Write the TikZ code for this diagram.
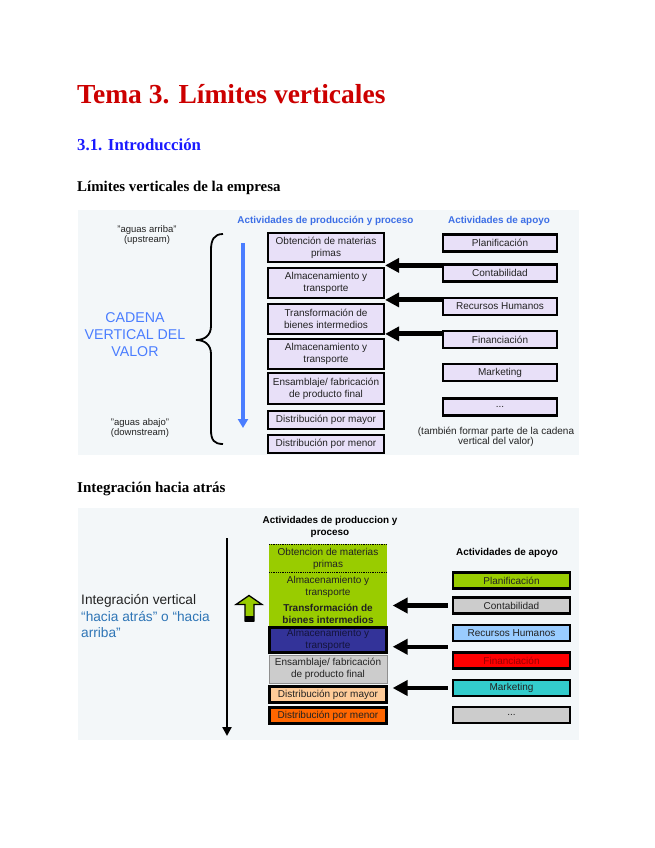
\documentclass[tikz,border=0pt]{standalone}
\usepackage{fontspec}
\setmainfont{Liberation Serif}
\setsansfont{Liberation Sans}
\usetikzlibrary{arrows.meta,calc}
\definecolor{bgc}{HTML}{F3F7F9}
\definecolor{lav}{HTML}{E8E0F8}
\definecolor{hblue}{HTML}{3D6FE6}
\definecolor{cblue}{HTML}{4A7DFF}
\definecolor{titred}{HTML}{CC0000}
\definecolor{secblue}{HTML}{1A1AFF}
\definecolor{lgreen}{HTML}{99CC00}
\definecolor{navy}{HTML}{333399}
\definecolor{navytxt}{HTML}{14143C}
\definecolor{lgray}{HTML}{CCCCCC}
\definecolor{peach}{HTML}{FFCC99}
\definecolor{orng}{HTML}{FF6600}
\definecolor{lblue}{HTML}{99CCFF}
\definecolor{teal2}{HTML}{33CCCC}
\definecolor{qblue}{HTML}{2E75B6}
\definecolor{darkred}{HTML}{990000}
\definecolor{btxt}{HTML}{222222}
\begin{document}
\begin{tikzpicture}[x=1pt,y=-1pt,
  boxtxt/.style={align=center, text=btxt, font=\sffamily\fontsize{10}{12}\selectfont, inner sep=0pt},
  pbox/.style={boxtxt, draw=black, line width=2.2pt, fill=lav, minimum width=116pt},
  abox/.style={boxtxt, draw=black, line width=2.2pt, fill=lav, minimum width=114pt, minimum height=17pt},
  cbox/.style={boxtxt, draw=black, line width=2.2pt, minimum width=117pt, minimum height=16pt},
  sbox/.style={boxtxt, minimum width=118pt},
  bigarrow/.style={line width=5pt, -{Triangle[length=14pt,width=14pt]}},
  midarrow/.style={line width=4.5pt, -{Triangle[length=15pt,width=15pt]}},
  small/.style={font=\sffamily\fontsize{9.5}{10.5}\selectfont, align=center, inner sep=0pt, text=btxt},
  hdr/.style={font=\sffamily\bfseries\fontsize{9.9}{12}\selectfont, align=center, inner sep=0pt}
  ]
\useasboundingbox (0,0) rectangle (655,848);
\fill[white] (0,0) rectangle (655,848);

% ---------- headings ----------
\node[anchor=base west, inner sep=0pt, text=titred, font=\bfseries\fontsize{27.5}{32}\selectfont] (title) at (77,103) {Tema 3. Límites verticales};
\node[anchor=base west, inner sep=0pt, text=secblue, font=\bfseries\fontsize{16.8}{18}\selectfont] (sec) at (77,150) {3.1. Introducción};
\node[anchor=base west, inner sep=0pt, font=\bfseries\fontsize{14.9}{17}\selectfont] (sub1) at (77,191) {Límites verticales de la empresa};
\node[anchor=base west, inner sep=0pt, font=\bfseries\fontsize{15}{17}\selectfont] (sub2) at (77,492) {Integración hacia atrás};

% ---------- diagram 1 ----------
\fill[bgc] (78,210) rectangle (579,455);
\node[hdr, text=hblue] (h1) at (325.5,221) {Actividades de producción y proceso};
\node[hdr, text=hblue] (h2) at (499,221) {Actividades de apoyo};

\node[small] (up) at (147,235) {"aguas arriba"\\(upstream)};
\node[small] (down) at (140,428) {"aguas abajo"\\(downstream)};
\node[align=center, text=cblue, inner sep=0pt, font=\sffamily\fontsize{14.2}{17}\selectfont] (cad) at (135,335) {CADENA\\VERTICAL DEL\\VALOR};

\draw[line width=1.8pt] (223,234) .. controls (214,234) and (211,240) .. (211,250) -- (211,326)
  .. controls (211,335) and (205,340) .. (196,340) .. controls (205,340) and (211,345) .. (211,354)
  -- (211,430) .. controls (211,440) and (214,444) .. (223,444);

\coordinate (bt) at (243,243);
\coordinate (bb) at (243,428);
\draw[cblue, line width=3.5pt, -{Triangle[length=9pt,width=10pt]}] (bt) -- (bb);

\node[pbox, minimum height=29pt] (p1) at (326,247.5) {Obtención de materias\\primas};
\node[pbox, minimum height=30pt] (p2) at (326,283) {Almacenamiento y\\transporte};
\node[pbox, minimum height=30pt] (p3) at (326,319) {Transformación de\\bienes intermedios};
\node[pbox, minimum height=30pt] (p4) at (326,354) {Almacenamiento y\\transporte};
\node[pbox, minimum height=31pt] (p5) at (326,388.5) {Ensamblaje/ fabricación\\de producto final};
\node[pbox, minimum height=18pt] (p6) at (326,420) {Distribución por mayor};
\node[pbox, minimum height=18pt] (p7) at (326,444) {Distribución por menor};

\node[abox] (a1) at (500,243) {Planificación};
\node[abox] (a2) at (500,273) {Contabilidad};
\node[abox] (a3) at (500,306.5) {Recursos Humanos};
\node[abox] (a4) at (500,339.5) {Financiación};
\node[abox] (a5) at (500,372.5) {Marketing};
\node[abox] (a6) at (500,407) {...};
\node[small, font=\sffamily\fontsize{10}{10.5}\selectfont] (tamb) at (496,437) {(también formar parte de la cadena\\vertical del valor)};

\draw[bigarrow] ([yshift=-2pt]a2.north west) -- ([yshift=-2pt]a2.north west -| p1.east);
\draw[bigarrow] ([yshift=-3pt]a3.north west) -- ([yshift=-3pt]a3.north west -| p2.east);
\draw[bigarrow] ([yshift=-4pt]a4.north west) -- ([yshift=-4pt]a4.north west -| p3.east);

% ---------- diagram 2 ----------
\fill[bgc] (78,508) rectangle (579,740);
\node[hdr, text=black] (h3) at (330,527) {Actividades de produccion y\\proceso};
\node[hdr, text=black] (h4) at (507,553) {Actividades de apoyo};

\coordinate (kt) at (227,538);
\coordinate (kb) at (227,736);
\draw[line width=2.5pt, -{Triangle[length=9pt,width=9pt]}] (kt) -- (kb);

\node[anchor=base west, inner sep=0pt, text=btxt, font=\sffamily\fontsize{13.7}{16}\selectfont] (iv) at (81,604) {Integración vertical};
\node[anchor=base west, inner sep=0pt, text=qblue, font=\sffamily\fontsize{13.7}{16}\selectfont] (ha) at (81,621) {“hacia atrás” o “hacia};
\node[anchor=base west, inner sep=0pt, text=qblue, font=\sffamily\fontsize{13.7}{16}\selectfont] (ar) at (81,637) {arriba”};

% green up arrow
\fill[lgreen, draw=black, line width=1.3pt] (236,604.5) -- (249,595.5) -- (262,604.5) -- (254,604.5) -- (254,621) -- (245,621) -- (245,604.5) -- cycle;
\fill[black] (245,615.5) rectangle (254,621.5);

% green block
\fill[lgreen] (269,544) rectangle (387,626);
\draw[densely dotted, line width=0.8pt] (269,544) -- (387,544);
\draw[densely dotted, line width=0.8pt] (269,572) -- (387,572);
\node[sbox] (g1) at (328,559) {Obtencion de materias\\primas};
\node[sbox] (g2) at (328,587) {Almacenamiento y\\transporte};
\node[sbox, font=\sffamily\bfseries\fontsize{10}{12}\selectfont] (g3) at (328,614) {Transformación de\\bienes intermedios};

\node[cbox, fill=navy, text=navytxt, minimum height=25pt] (s1) at (328,640) {Almacenamiento y\\transporte};
\node[boxtxt, draw=lgray!70!black, line width=0.8pt, fill=lgray, minimum width=118pt, minimum height=28pt] (s2) at (328,669) {Ensamblaje/ fabricación\\de producto final};
\node[cbox, fill=peach, minimum height=16pt] (s3) at (328,694.5) {Distribución por mayor};
\node[cbox, fill=orng, minimum height=16pt] (s4) at (328,715.5) {Distribución por menor};

\node[cbox, fill=lgreen] (c1) at (511.5,580.5) {Planificación};
\node[cbox, fill=lgray] (c2) at (511.5,605.5) {Contabilidad};
\node[cbox, fill=lblue] (c3) at (511.5,633) {Recursos Humanos};
\node[cbox, fill=red, text=darkred] (c4) at (511.5,660.5) {Financiación};
\node[cbox, fill=teal2] (c5) at (511.5,688) {Marketing};
\node[cbox, fill=lgray] (c6) at (511.5,715) {...};

\coordinate (m34) at ($(c3.south west)!0.5!(c4.north west)$);
\draw[midarrow] ([xshift=-4pt]c2.west) -- ([xshift=5pt]c2.west -| s1.east);
\draw[midarrow] ([xshift=-4pt]m34) -- ([xshift=5pt]m34 -| s1.east);
\draw[midarrow] ([xshift=-4pt]c5.west) -- ([xshift=5pt]c5.west -| s1.east);
\end{tikzpicture}
\end{document}
